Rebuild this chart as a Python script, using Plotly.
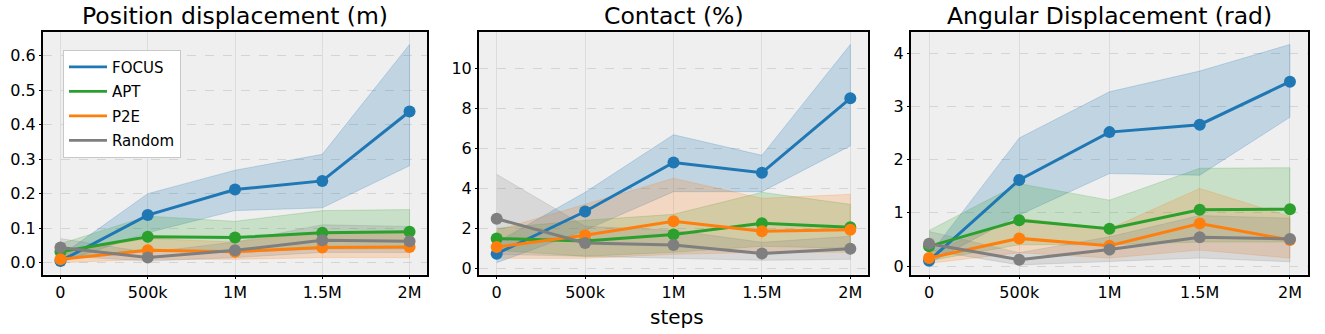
import plotly.graph_objects as go

W, H = 1325, 334

steps = [0, 0.5, 1.0, 1.5, 2.0]
step_labels = ["0", "500k", "1M", "1.5M", "2M"]
methods = ["FOCUS", "APT", "P2E", "Random"]
colors = {"FOCUS": "#1f77b4", "APT": "#2ca02c", "P2E": "#ff7f0e", "Random": "#7f7f7f"}
band_colors = {"FOCUS": "rgba(31,119,180,0.22)", "APT": "rgba(44,160,44,0.2)",
               "P2E": "rgba(255,127,14,0.2)", "Random": "rgba(127,127,127,0.2)"}

titles = ["Position displacement (m)", "Contact (%)", "Angular Displacement (rad)"]

# Panel 1: Position displacement (m)
pos_mean = {
    "FOCUS":  [0.005, 0.138, 0.212, 0.237, 0.438],
    "APT":    [0.032, 0.075, 0.073, 0.087, 0.090],
    "P2E":    [0.010, 0.036, 0.032, 0.044, 0.046],
    "Random": [0.044, 0.015, 0.036, 0.065, 0.062],
}
pos_upper = {
    "FOCUS":  [0.020, 0.200, 0.268, 0.314, 0.632],
    "APT":    [0.055, 0.135, 0.120, 0.151, 0.154],
    "P2E":    [0.030, 0.070, 0.060, 0.090, 0.090],
    "Random": [0.070, 0.030, 0.060, 0.110, 0.105],
}
pos_lower = {
    "FOCUS":  [0.000, 0.087, 0.151, 0.159, 0.281],
    "APT":    [0.010, 0.040, 0.030, 0.040, 0.040],
    "P2E":    [0.000, 0.010, 0.010, 0.015, 0.015],
    "Random": [0.020, 0.005, 0.015, 0.030, 0.030],
}

# Panel 2: Contact (%)
con_mean = {
    "FOCUS":  [0.73, 2.84, 5.29, 4.78, 8.50],
    "APT":    [1.49, 1.36, 1.69, 2.25, 2.05],
    "P2E":    [1.06, 1.65, 2.35, 1.85, 1.93],
    "Random": [2.48, 1.27, 1.16, 0.74, 0.98],
}
con_upper = {
    "FOCUS":  [1.30, 3.80, 6.68, 5.65, 11.19],
    "APT":    [2.00, 2.40, 2.70, 3.80, 3.20],
    "P2E":    [1.90, 3.20, 4.50, 3.50, 3.70],
    "Random": [4.70, 2.10, 1.90, 1.30, 1.60],
}
con_lower = {
    "FOCUS":  [0.28, 1.90, 3.83, 3.83, 6.12],
    "APT":    [0.90, 0.60, 0.80, 1.10, 1.00],
    "P2E":    [0.50, 0.50, 0.70, 0.80, 0.80],
    "Random": [0.70, 0.60, 0.50, 0.40, 0.45],
}

# Panel 3: Angular Displacement (rad)
ang_mean = {
    "FOCUS":  [0.10, 1.62, 2.52, 2.66, 3.47],
    "APT":    [0.37, 0.86, 0.70, 1.06, 1.07],
    "P2E":    [0.15, 0.52, 0.38, 0.80, 0.49],
    "Random": [0.42, 0.12, 0.31, 0.54, 0.51],
}
ang_upper = {
    "FOCUS":  [0.20, 2.41, 3.28, 3.67, 4.17],
    "APT":    [0.67, 1.55, 1.24, 1.84, 1.85],
    "P2E":    [0.25, 0.90, 0.70, 1.46, 0.93],
    "Random": [0.65, 0.25, 0.55, 0.95, 0.90],
}
ang_lower = {
    "FOCUS":  [0.05, 0.96, 1.74, 1.71, 2.80],
    "APT":    [0.10, 0.40, 0.40, 0.45, 0.45],
    "P2E":    [0.05, 0.25, 0.15, 0.30, 0.15],
    "Random": [0.30, 0.02, 0.08, 0.15, 0.08],
}

panels = [(pos_mean, pos_upper, pos_lower), (con_mean, con_upper, con_lower),
          (ang_mean, ang_upper, ang_lower)]

y_ticks = [[0, 0.1, 0.2, 0.3, 0.4, 0.5, 0.6], [0, 2, 4, 6, 8, 10], [0, 1, 2, 3, 4]]
y_ticktext = [["0.0", "0.1", "0.2", "0.3", "0.4", "0.5", "0.6"],
              ["0", "2", "4", "6", "8", "10"], ["0", "1", "2", "3", "4"]]
y_ranges = [[-0.034, 0.669], [-0.31, 11.83], [-0.16, 4.41]]

x_px = [(43, 427), (479, 868), (911, 1308)]
y_top, y_bot = 32, 277

fig = go.Figure()
for i, (mean, upper, lower) in enumerate(panels):
    xa = "x" if i == 0 else f"x{i+1}"
    ya = "y" if i == 0 else f"y{i+1}"
    for m in methods:
        fig.add_trace(go.Scatter(
            x=steps + steps[::-1], y=upper[m] + lower[m][::-1],
            fill="toself", fillcolor=band_colors[m], mode="lines",
            line=dict(color=band_colors[m], width=1), hoverinfo="skip",
            showlegend=False, xaxis=xa, yaxis=ya))
    for m in methods:
        fig.add_trace(go.Scatter(
            x=steps, y=mean[m], mode="lines+markers",
            line=dict(color=colors[m], width=3),
            marker=dict(color=colors[m], size=12),
            showlegend=False, xaxis=xa, yaxis=ya))

for m in methods:
    fig.add_trace(go.Scatter(x=[None], y=[None], mode="lines", name=m,
                             line=dict(color=colors[m], width=2.8),
                             legendgroup=m, showlegend=True))

layout = dict(
    width=W, height=H, margin=dict(l=0, r=0, t=0, b=0),
    paper_bgcolor="white", plot_bgcolor="#efefef",
    font=dict(family="DejaVu Sans", color="black", size=15),
    legend=dict(x=63 / W, y=1 - 50 / H, xanchor="left", yanchor="top",
                bgcolor="white", bordercolor="#c8c8c8", borderwidth=1,
                font=dict(size=15, family="DejaVu Sans"),
                tracegroupgap=2, traceorder="grouped", itemwidth=38),
    annotations=[],
)
for i in range(3):
    sfx = "" if i == 0 else str(i + 1)
    x0, x1 = x_px[i]
    layout["xaxis" + sfx] = dict(
        domain=[x0 / W, x1 / W], range=[-0.1, 2.1],
        tickvals=steps, ticktext=step_labels, showgrid=True, gridcolor="#dcdcdc",
        gridwidth=1, zeroline=False, showline=True, mirror=True, linecolor="black",
        linewidth=2, ticks="outside", ticklen=2, tickcolor="black",
        tickfont=dict(size=16), anchor="y" + sfx)
    layout["yaxis" + sfx] = dict(
        domain=[1 - y_bot / H, 1 - y_top / H], range=y_ranges[i],
        tickvals=y_ticks[i], ticktext=y_ticktext[i], showgrid=True,
        gridcolor="#d4d4d4", griddash="dash", gridwidth=1, zeroline=False,
        showline=True, mirror=True, linecolor="black", linewidth=2,
        ticks="outside", ticklen=2, tickcolor="black", tickfont=dict(size=16),
        anchor="x" + sfx)
    layout["annotations"].append(dict(
        text=titles[i], x=(x0 + x1) / 2 / W, y=1 - 16 / H, xref="paper", yref="paper",
        xanchor="center", yanchor="middle", showarrow=False,
        font=dict(size=23.5, family="DejaVu Sans")))
layout["annotations"].append(dict(
    text="steps", x=677 / W, y=1 - 320 / H, xref="paper", yref="paper",
    xanchor="center", yanchor="middle", showarrow=False, font=dict(size=20)))

fig.update_layout(**layout)
fig.write_html("out.html", config={"displayModeBar": False},
               post_script="document.body.style.margin='0';document.body.style.overflow='hidden';")
